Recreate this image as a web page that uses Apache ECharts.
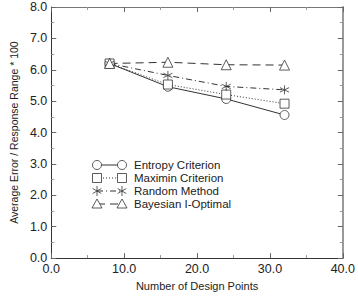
<!DOCTYPE html>
<html><head><meta charset="utf-8">
<script src="https://cdn.jsdelivr.net/npm/echarts@6/dist/echarts.min.js"></script>
<style>html,body{margin:0;padding:0;background:#fff}#c{width:358px;height:296px}</style>
</head><body><div id="c"></div>
<script>
const designPoints = [8, 16, 24, 32];
const entropy = [6.2, 5.46, 5.07, 4.56];
const maximin = [6.2, 5.53, 5.21, 4.92];
const randomMethod = [6.2, 5.82, 5.47, 5.36];
const bayesian = [6.2, 6.24, 6.16, 6.15];
const seriesNames = ['Entropy Criterion', 'Maximin Criterion', 'Random Method', 'Bayesian I-Optimal'];
const xTicks = [0, 10, 20, 30, 40];
const yTicks = [0, 1, 2, 3, 4, 5, 6, 7, 8];

const FONT = 'Liberation Sans, Arial, sans-serif';
const C = '#333';
const star = 'path://M0,-5L0,5M-4.33,-2.5L4.33,2.5M-4.33,2.5L4.33,-2.5';
const symbols = ['circle', 'rect', star, 'triangle'];
const dashes = ['solid', [1, 2], [6, 3, 1, 3], [8, 5]];
const values = [entropy, maximin, randomMethod, bayesian];

const chart = echarts.init(document.getElementById('c'), null, {renderer: 'svg'});

function axisBase() {
  return {
    axisLine: {onZero: false, lineStyle: {color: C, width: 1}},
    axisTick: {show: true, inside: true, length: 5, lineStyle: {color: '#666'}},
    minorTick: {show: true, splitNumber: 2, length: 3, lineStyle: {color: '#999'}},
    splitLine: {show: false}
  };
}

const series = values.map((v, i) => ({
  name: seriesNames[i],
  type: 'line',
  data: designPoints.map((x, j) => [x, v[j]]),
  symbol: symbols[i],
  symbolSize: i === 3 ? 10 : 9,
  showAllSymbol: true,
  lineStyle: {color: C, width: 1, type: dashes[i]},
  itemStyle: {color: i === 2 ? C : '#fff', borderColor: C, borderWidth: 0.8},
  emphasis: {disabled: true},
  animation: false,
  z: 3
}));

const legendEls = [];
const lx1 = 97, lx2 = 122, tx = 134, ly0 = 165, dy = 13;
seriesNames.forEach((name, i) => {
  const y = ly0 + i * dy;
  legendEls.push({type: 'line', shape: {x1: lx1, y1: y, x2: lx2, y2: y},
    style: {stroke: C, lineWidth: 1, lineDash: dashes[i] === 'solid' ? null : dashes[i]}});
  [lx1, lx2].forEach(x => {
    if (i === 0) legendEls.push({type: 'circle', shape: {cx: x, cy: y, r: 4.5}, style: {fill: '#fff', stroke: C, lineWidth: 0.8}});
    else if (i === 1) legendEls.push({type: 'rect', shape: {x: x - 4.5, y: y - 4.5, width: 9, height: 9}, style: {fill: '#fff', stroke: C, lineWidth: 0.8}});
    else if (i === 2) {
      legendEls.push({type: 'line', shape: {x1: x, y1: y - 5, x2: x, y2: y + 5}, style: {stroke: C, lineWidth: 0.8}});
      legendEls.push({type: 'line', shape: {x1: x - 4.33, y1: y - 2.5, x2: x + 4.33, y2: y + 2.5}, style: {stroke: C, lineWidth: 0.8}});
      legendEls.push({type: 'line', shape: {x1: x - 4.33, y1: y + 2.5, x2: x + 4.33, y2: y - 2.5}, style: {stroke: C, lineWidth: 0.8}});
    }
    else legendEls.push({type: 'polygon', shape: {points: [[x, y - 5], [x + 5, y + 4], [x - 5, y + 4]]}, style: {fill: '#fff', stroke: C, lineWidth: 0.8}});
  });
  legendEls.push({type: 'text', x: tx, y: y, style: {text: name, fill: '#222', font: '11.5px ' + FONT, verticalAlign: 'middle'}});
});

const xMain = Object.assign(axisBase(), {
  type: 'value', min: 0, max: 40, interval: 10,
  name: 'Number of Design Points', nameLocation: 'middle', nameGap: 20,
  nameTextStyle: {color: '#222', fontSize: 11, fontFamily: FONT},
  axisLabel: {color: '#222', fontSize: 12.5, fontFamily: FONT, margin: 4,
    formatter: v => xTicks.includes(v) ? v.toFixed(1) : ''}
});
const xTop = Object.assign(axisBase(), {
  type: 'value', min: 0, max: 40, interval: 10, position: 'top',
  axisLabel: {show: false}
});
xTop.axisLine.lineStyle.color = '#777';
const yMain = Object.assign(axisBase(), {
  type: 'value', min: 0, max: 8, interval: 1,
  name: 'Average Error / Response Range * 100', nameLocation: 'middle', nameGap: 29,
  nameTextStyle: {color: '#222', fontSize: 10.5, fontFamily: FONT},
  axisLabel: {color: '#222', fontSize: 12.5, fontFamily: FONT, margin: 4,
    formatter: v => yTicks.includes(v) ? v.toFixed(1) : ''}
});
const yRight = Object.assign(axisBase(), {
  type: 'value', min: 0, max: 8, interval: 1, position: 'right',
  axisLabel: {show: false}
});
yRight.axisLine.lineStyle = {color: '#999', width: 2};

chart.setOption({
  animation: false,
  backgroundColor: '#fff',
  grid: {left: 38, right: 10, top: 7, bottom: 30},
  xAxis: [xMain, xTop],
  yAxis: [yMain, yRight],
  series: series,
  graphic: legendEls
});
</script></body></html>
